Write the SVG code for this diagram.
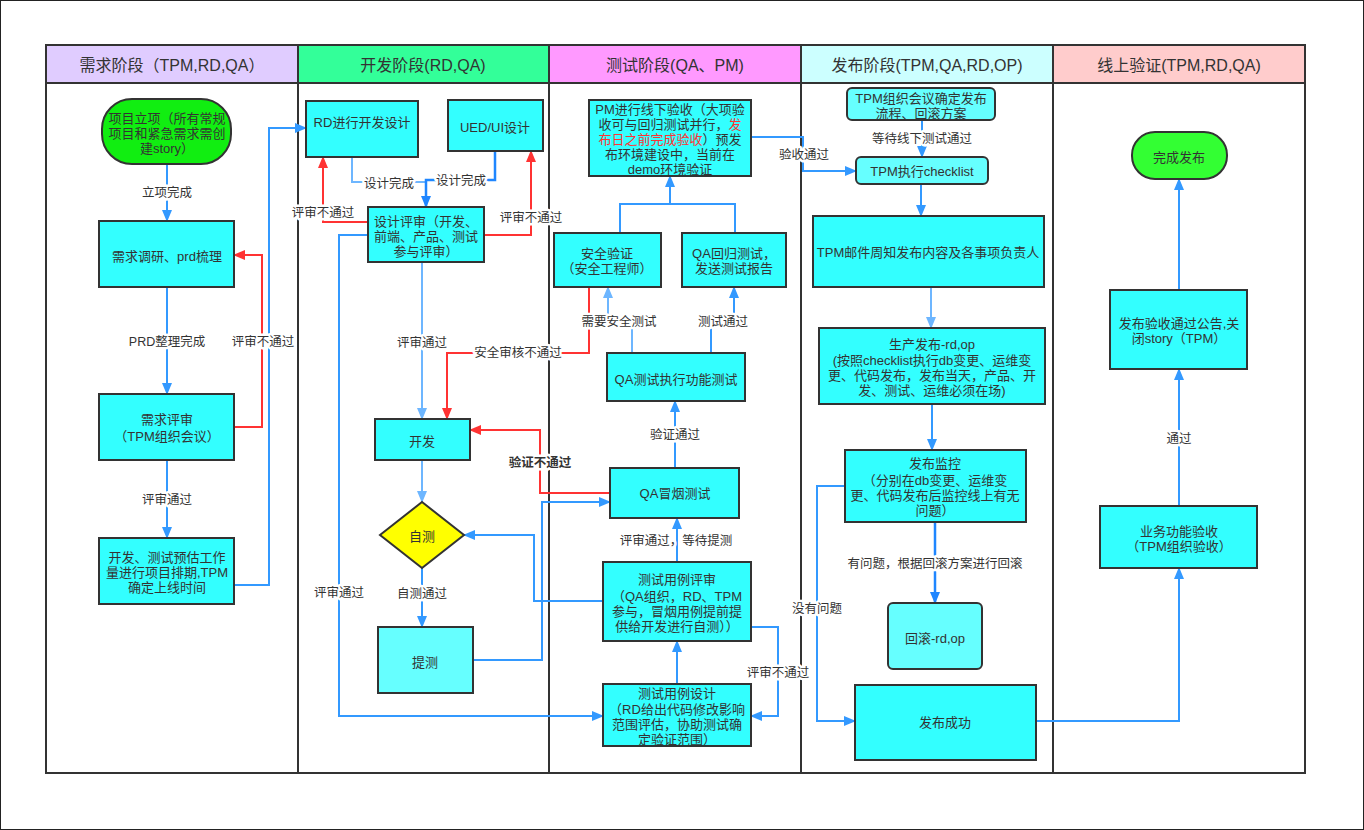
<svg xmlns="http://www.w3.org/2000/svg" width="1364" height="830" viewBox="0 0 1364 830">
<style>
text{font-family:"Liberation Sans","Noto Sans CJK SC",sans-serif;fill:#333;text-anchor:middle;dominant-baseline:central}
.t{font-size:13px}
.h{font-size:16px}
.lbl{font-size:12.5px;stroke:#fff;stroke-width:5px;paint-order:stroke;stroke-linejoin:round}
.box{fill:#33ffff;stroke:#333;stroke-width:2}
.box2{fill:#66ffff;stroke:#333;stroke-width:2}
.lane{fill:none;stroke:#333;stroke-width:2}
.cb{fill:none;stroke:#3399ff;stroke-width:2}
.cl{fill:none;stroke:#6db6ff;stroke-width:2}
.cd{fill:none;stroke:#1f86ff;stroke-width:2.5}
.cr{fill:none;stroke:#ff3333;stroke-width:2}
.ab{marker-end:url(#mb)}
.al{marker-end:url(#ml)}
.ad{marker-end:url(#md)}
.ar{marker-end:url(#mr)}
.red{fill:#ff3333}
</style>
<defs>
<marker id="mb" viewBox="0 0 12 10" refX="11" refY="5" markerWidth="12" markerHeight="10" markerUnits="userSpaceOnUse" orient="auto"><path d="M0,0 L12,5 L0,10 z" fill="#3399ff"/></marker>
<marker id="ml" viewBox="0 0 12 10" refX="11" refY="5" markerWidth="12" markerHeight="10" markerUnits="userSpaceOnUse" orient="auto"><path d="M0,0 L12,5 L0,10 z" fill="#6db6ff"/></marker>
<marker id="md" viewBox="0 0 12 10" refX="11" refY="5" markerWidth="12" markerHeight="10" markerUnits="userSpaceOnUse" orient="auto"><path d="M0,0 L12,5 L0,10 z" fill="#1f86ff"/></marker>
<marker id="mr" viewBox="0 0 12 10" refX="11" refY="5" markerWidth="12" markerHeight="10" markerUnits="userSpaceOnUse" orient="auto"><path d="M0,0 L12,5 L0,10 z" fill="#ff3333"/></marker>
</defs>
<rect x="0" y="0" width="1364" height="830" fill="#fff"/>
<rect x="0.5" y="0.5" width="1363" height="829" fill="none" stroke="#222" stroke-width="1"/>

<g id="lanes">
<rect x="46" y="45" width="252" height="38" fill="#e0ccff"/>
<rect x="298" y="45" width="251" height="38" fill="#33ff99"/>
<rect x="549" y="45" width="252" height="38" fill="#ff99ff"/>
<rect x="801" y="45" width="252" height="38" fill="#ccffff"/>
<rect x="1053" y="45" width="252" height="38" fill="#ffcccc"/>
<rect class="lane" x="46" y="45" width="1259" height="728"/>
<path class="lane" d="M46,83 H1305 M298,45 V773 M549,45 V773 M801,45 V773 M1053,45 V773"/>
<text class="h" x="172" y="65">需求阶段（TPM,RD,QA）</text>
<text class="h" x="423" y="65">开发阶段(RD,QA)</text>
<text class="h" x="675" y="65">测试阶段(QA、PM)</text>
<text class="h" x="927" y="65">发布阶段(TPM,QA,RD,OP)</text>
<text class="h" x="1179" y="65">线上验证(TPM,RD,QA)</text>
</g>

<g id="connectors">
<path class="cb ab" d="M167,164 V221"/>
<path class="cb ab" d="M167,287 V394"/>
<path class="cb ab" d="M167,460 V538"/>
<path class="cr ar" d="M234,427 H262 V255 H234"/>
<path class="cb ab" d="M234,585 H269 V128 H306"/>
<path class="cl" d="M352,157 V182 H426"/>
<path class="cd ad" d="M495,151 V180 H426 V207"/>
<path class="cr ar" d="M368,222 H323 V157"/>
<path class="cr ar" d="M484,235 H531 V151"/>
<path class="cl al" d="M422,262 V419"/>
<path class="cb ab" d="M368,235 H339 V716 H603"/>
<path class="cr ar" d="M589,287 V353 H447 V419"/>
<path class="cr ar" d="M610,493 H540 V430 H470"/>
<path class="cl al" d="M422,460 V502"/>
<path class="cb ab" d="M422,568 V627"/>
<path class="cb ab" d="M473,660 H542 V502 H610"/>
<path class="cb ab" d="M603,601 H534 V535 H464"/>
<path class="cb" d="M620,233 V204 H735 V233"/>
<path class="cb ab" d="M670,204 V176"/>
<path class="cl al" d="M632,353 V322 H608 V287"/>
<path class="cb ab" d="M711,353 V322 H734 V287"/>
<path class="cb ab" d="M675,468 V401"/>
<path class="cb ab" d="M677,562 V518"/>
<path class="cb ab" d="M677,684 V641"/>
<path class="cb ab" d="M751,627 H778 V716 H751"/>
<path class="cb ab" d="M751,137 H803 V171 H856"/>
<path class="cb ab" d="M922,120 V157"/>
<path class="cb ab" d="M921,184 V216"/>
<path class="cl al" d="M931,287 V328"/>
<path class="cb ab" d="M932,404 V450"/>
<path class="cd ad" d="M935,522 V603"/>
<path class="cb ab" d="M845,486 H817 V721 H855"/>
<path class="cb ab" d="M1036,721 H1179 V568"/>
<path class="cb ab" d="M1179,506 V369"/>
<path class="cb ab" d="M1179,290 V179"/>
<text class="lbl" x="167" y="193">立项完成</text>
<text class="lbl" x="167" y="342">PRD整理完成</text>
<text class="lbl" x="167" y="500">评审通过</text>
<text class="lbl" x="263" y="342">评审不通过</text>
<text class="lbl" x="389" y="184">设计完成</text>
<text class="lbl" x="461" y="181">设计完成</text>
<text class="lbl" x="323" y="213">评审不通过</text>
<text class="lbl" x="531" y="218">评审不通过</text>
<text class="lbl" x="422" y="343">评审通过</text>
<text class="lbl" x="518" y="353">安全审核不通过</text>
<text class="lbl" x="540" y="463" font-weight="bold">验证不通过</text>
<text class="lbl" x="422" y="594">自测通过</text>
<text class="lbl" x="339" y="593">评审通过</text>
<text class="lbl" x="619" y="322">需要安全测试</text>
<text class="lbl" x="723" y="322">测试通过</text>
<text class="lbl" x="675" y="435">验证通过</text>
<text class="lbl" x="676" y="541">评审通过，等待提测</text>
<text class="lbl" x="778" y="673">评审不通过</text>
<text class="lbl" x="804" y="155">验收通过</text>
<text class="lbl" x="922" y="139">等待线下测试通过</text>
<text class="lbl" x="935" y="564">有问题，根据回滚方案进行回滚</text>
<text class="lbl" x="817" y="609">没有问题</text>
<text class="lbl" x="1179" y="439">通过</text>
</g>

<g id="n1"><rect x="102" y="99" width="129" height="65" rx="30" fill="#11ee11" stroke="#333" stroke-width="2"/>
<text class="t"><tspan x="167" y="118">项目立项（所有常规</tspan><tspan x="167" y="133">项目和紧急需求需创</tspan><tspan x="167" y="148">建story）</tspan></text></g>
<g id="n2"><rect class="box" x="99" y="221" width="135" height="66"/><text class="t" x="167" y="256">需求调研、prd梳理</text></g>
<g id="n3"><rect class="box" x="99" y="394" width="135" height="66"/><text class="t"><tspan x="167" y="419">需求评审</tspan><tspan x="167" y="436">（TPM组织会议）</tspan></text></g>
<g id="n4"><rect class="box" x="99" y="538" width="135" height="66"/><text class="t"><tspan x="167" y="557">开发、测试预估工作</tspan><tspan x="167" y="572">量进行项目排期,TPM</tspan><tspan x="167" y="587">确定上线时间</tspan></text></g>

<g id="n5"><rect class="box" x="306" y="101" width="112" height="56"/><text class="t" x="362" y="122">RD进行开发设计</text></g>
<g id="n6"><rect class="box" x="448" y="100" width="95" height="51"/><text class="t" x="495" y="127">UED/UI设计</text></g>
<g id="n7"><rect class="box" x="368" y="207" width="116" height="55"/><text class="t"><tspan x="426" y="221">设计评审（开发、</tspan><tspan x="426" y="236">前端、产品、测试</tspan><tspan x="426" y="251">参与评审）</tspan></text></g>
<g id="n8"><rect class="box" x="375" y="419" width="95" height="41"/><text class="t" x="422" y="441">开发</text></g>
<g id="n9"><path d="M380,535 L422,502 L464,535 L422,568 z" fill="#ffff00" stroke="#333" stroke-width="2"/><text class="t" x="422" y="536">自测</text></g>
<g id="n10"><rect class="box2" x="378" y="627" width="95" height="66"/><text class="t" x="425" y="662">提测</text></g>

<g id="n11"><rect class="box" x="589" y="100" width="162" height="76"/>
<text class="t"><tspan x="670" y="109">PM进行线下验收（大项验</tspan><tspan x="670" y="124">收可与回归测试并行，<tspan class="red">发</tspan></tspan><tspan x="670" y="139"><tspan class="red">布日之前完成验收</tspan>）预发</tspan><tspan x="670" y="154">布环境建设中，当前在</tspan><tspan x="670" y="169">demo环境验证</tspan></text></g>
<g id="n12"><rect class="box" x="554" y="233" width="107" height="54"/><text class="t"><tspan x="607" y="253">安全验证</tspan><tspan x="607" y="268">（安全工程师）</tspan></text></g>
<g id="n13"><rect class="box" x="682" y="233" width="104" height="54"/><text class="t"><tspan x="734" y="253">QA回归测试，</tspan><tspan x="734" y="268">发送测试报告</tspan></text></g>
<g id="n14"><rect class="box" x="607" y="353" width="138" height="48"/><text class="t" x="676" y="379">QA测试执行功能测试</text></g>
<g id="n15"><rect class="box" x="610" y="468" width="129" height="50"/><text class="t" x="675" y="493">QA冒烟测试</text></g>
<g id="n16"><rect class="box" x="603" y="562" width="148" height="79"/><text class="t"><tspan x="677" y="579">测试用例评审</tspan><tspan x="677" y="596">（QA组织，RD、TPM</tspan><tspan x="677" y="611">参与，冒烟用例提前提</tspan><tspan x="677" y="626">供给开发进行自测））</tspan></text></g>
<g id="n17"><rect class="box" x="603" y="684" width="148" height="62"/><text class="t"><tspan x="677" y="693">测试用例设计</tspan><tspan x="677" y="709">（RD给出代码修改影响</tspan><tspan x="677" y="724">范围评估，协助测试确</tspan><tspan x="677" y="739">定验证范围）</tspan></text></g>

<g id="n18"><rect class="box2" x="847" y="88" width="148" height="32" rx="5"/><text class="t"><tspan x="921" y="98">TPM组织会议确定发布</tspan><tspan x="921" y="113">流程、回滚方案</tspan></text></g>
<g id="n19"><rect class="box2" x="856" y="157" width="132" height="27" rx="5"/><text class="t" x="922" y="171">TPM执行checklist</text></g>
<g id="n20"><rect class="box" x="813" y="216" width="231" height="71"/><text class="t" x="928" y="252">TPM邮件周知发布内容及各事项负责人</text></g>
<g id="n21"><rect class="box" x="819" y="328" width="226" height="76"/><text class="t"><tspan x="932" y="344">生产发布-rd,op</tspan><tspan x="932" y="360">(按照checklist执行db变更、运维变</tspan><tspan x="932" y="375">更、代码发布，发布当天，产品、开</tspan><tspan x="932" y="390">发、测试、运维必须在场)</tspan></text></g>
<g id="n22"><rect class="box" x="845" y="450" width="181" height="72"/><text class="t"><tspan x="935" y="463">发布监控</tspan><tspan x="935" y="480">（分别在db变更、运维变</tspan><tspan x="935" y="495">更、代码发布后监控线上有无</tspan><tspan x="935" y="510">问题）</tspan></text></g>
<g id="n23"><rect class="box2" x="888" y="603" width="94" height="66" rx="5"/><text class="t" x="935" y="638">回滚-rd,op</text></g>
<g id="n24"><rect class="box" x="855" y="685" width="181" height="75"/><text class="t" x="945" y="722">发布成功</text></g>

<g id="n25"><rect x="1132" y="132" width="95" height="47" rx="23" fill="#33ff33" stroke="#333" stroke-width="2"/><text class="t" x="1179" y="157">完成发布</text></g>
<g id="n26"><rect class="box" x="1110" y="290" width="137" height="79"/><text class="t"><tspan x="1179" y="323">发布验收通过公告,关</tspan><tspan x="1179" y="338">闭story（TPM）</tspan></text></g>
<g id="n27"><rect class="box" x="1100" y="506" width="157" height="62"/><text class="t"><tspan x="1179" y="531">业务功能验收</tspan><tspan x="1179" y="546">（TPM组织验收）</tspan></text></g>
</svg>
